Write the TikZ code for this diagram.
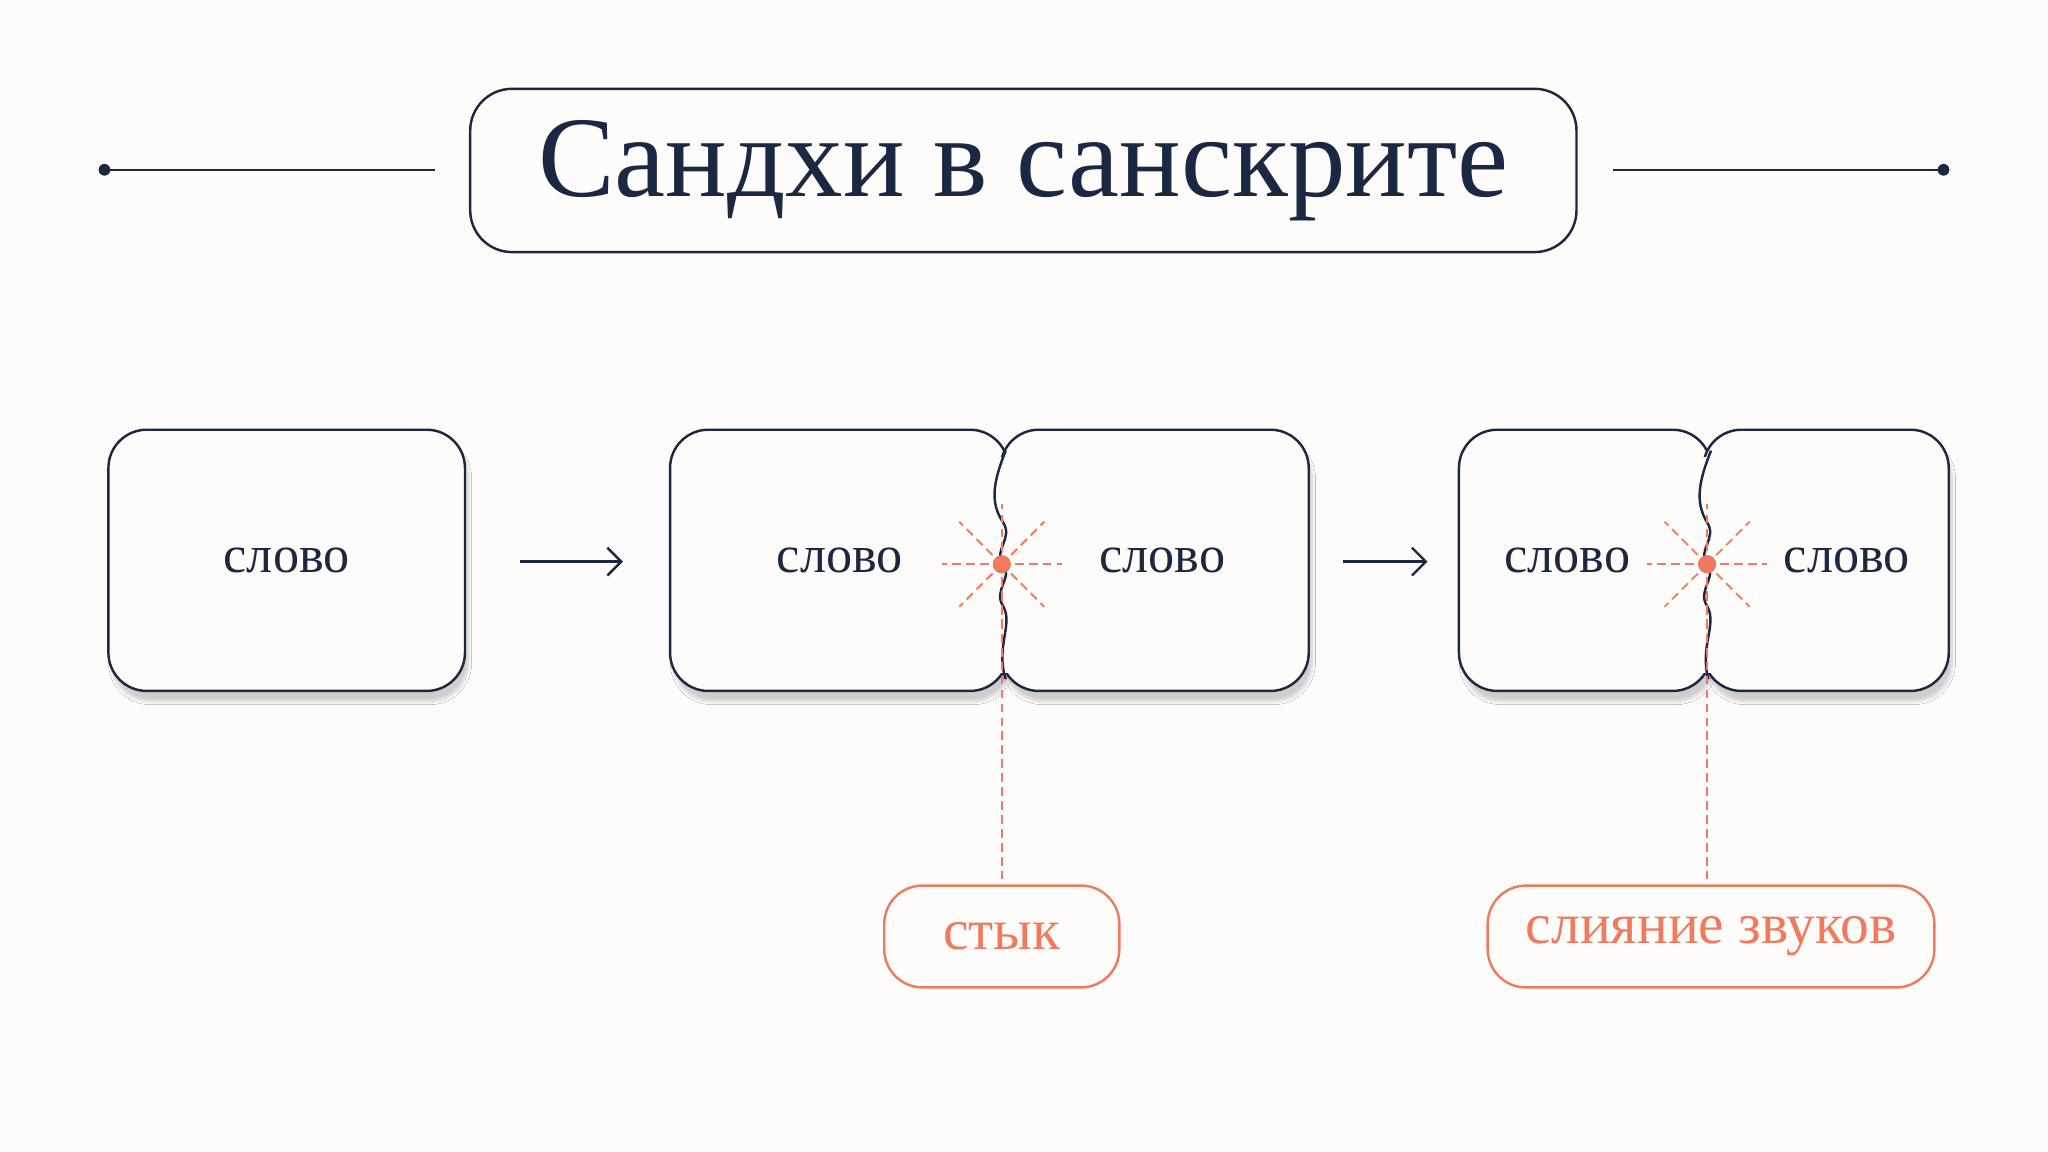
\documentclass[tikz,border=0pt]{standalone}
\usepackage{fontspec}
\setmainfont{Liberation Serif}
\usetikzlibrary{shadows.blur,arrows.meta}
\definecolor{navy}{RGB}{27,40,66}
\definecolor{coral}{RGB}{240,122,94}
\definecolor{paper}{RGB}{253,252,250}
\tikzset{every picture/.style={line width=1.4pt}}
\tikzset{
  card/.style={draw=navy,fill=paper,rounded corners=22pt,blur shadow={shadow blur steps=8,shadow xshift=2pt,shadow yshift=-6pt,shadow opacity=18}},
  word/.style={text=navy,font=\fontsize{30}{34}\selectfont,inner sep=0.75pt},
  tag/.style={draw=coral,fill=paper,rounded corners=22pt,text=coral,font=\fontsize{33}{38}\selectfont,inner sep=0.75pt,align=center},
  ray/.style={draw=coral,line width=1.1pt,dash pattern=on 5pt off 3pt},
  flow/.style={draw=navy,-{Straight Barb[length=8pt,width=16pt]}}
}
\begin{document}
\begin{tikzpicture}[x=0.75pt,y=0.75pt,yscale=-1,xscale=1]
    % background
    \fill[paper] (0,0) rectangle (1568,882);
    \useasboundingbox (0,0) rectangle (1568,882);

    % Title
    \node (title) [draw=navy,fill=paper,rounded corners=24pt,minimum width=847*0.75pt,minimum height=125*0.75pt,text=navy,font=\fontsize{66}{70}\selectfont] at (783.5,130.5) {Сандхи в санскрите};
    \coordinate (tl) at (80,130); \coordinate (tr) at (1488,130);
    \draw[navy] (tl) -- (333,130);
    \draw[navy] (1235,130) -- (tr);
    \fill[navy] (tl) circle (4.5) (tr) circle (4.5);

    % Cards
    \draw[card] (83,329) rectangle (356,529);
    \node (w1) [word] at (219.5,429) {слово};

    \draw[card] (513,329) rectangle (772,529);
    \draw[card] (766,329) rectangle (1002,529);
    \draw[card] (1117,329) rectangle (1310,529);
    \draw[card] (1304,329) rectangle (1492,529);
    % joints
    \fill[paper] (760,350) rectangle (776,515);
    \fill[paper] (1299,350) rectangle (1314,515);
    \draw[navy] (770,345) .. controls (760,370) and (758,385) .. (768,400) .. controls (776,412) and (760,422) .. (768,432) .. controls (776,442) and (760,452) .. (768,464) .. controls (776,478) and (762,495) .. (770,520);
    \draw[navy] (1310,345) .. controls (1300,370) and (1298,385) .. (1307,400) .. controls (1315,412) and (1299,422) .. (1307,432) .. controls (1315,442) and (1299,452) .. (1307,464) .. controls (1315,478) and (1301,495) .. (1308,520);

    \node (w2) [word] at (643,429) {слово};
    \node (w3) [word] at (890,429) {слово};
    \node (w4) [word] at (1200,429) {слово};
    \node (w5) [word] at (1414,429) {слово};

    % Arrows
    \coordinate (a1s) at (398,430); \coordinate (a1e) at (477,430);
    \coordinate (a2s) at (1028,430); \coordinate (a2e) at (1093,430);
    \draw[flow] (a1s) -- (a1e);
    \draw[flow] (a2s) -- (a2e);

    % Junction points
    \coordinate (j1) at (767,432);
    \coordinate (j2) at (1307,432);
    \foreach \j in {j1,j2}{
      \foreach \a in {0,45,...,315}{
        \draw[ray] (\j) ++(\a:10) -- ++(\a:36);
      }
      \fill[coral] (\j) circle (7);
    }

    % Labels
    \node (t1) [tag,minimum width=180*0.75pt,minimum height=78*0.75pt] at (767,717) {стык};
    \node (t2) [tag,minimum width=342*0.75pt,minimum height=78*0.75pt] at (1310,717) {слияние звуков};
    \draw[ray] (j1) -- (t1.north);
    \draw[ray] (j2) -- (j2 |- t2.north);
\end{tikzpicture}
\end{document}
